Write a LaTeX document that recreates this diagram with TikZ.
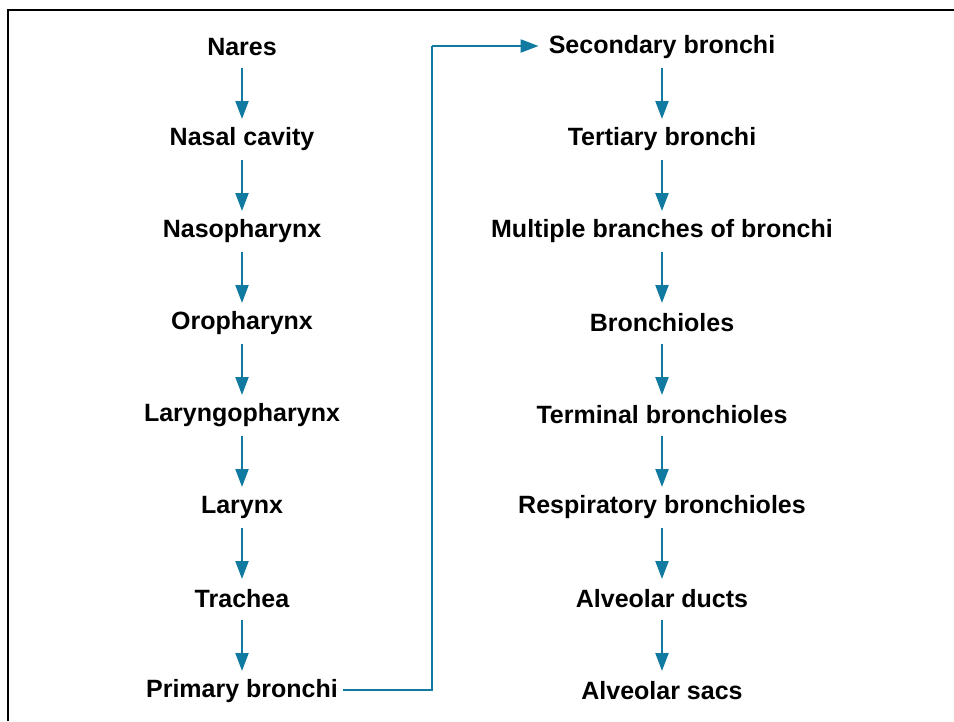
\documentclass[tikz,border=0pt]{standalone}
\usepackage{fontspec}
\setmainfont{Liberation Sans}
\usetikzlibrary{arrows.meta}
\definecolor{flow}{RGB}{16,122,160}
\begin{document}
\begin{tikzpicture}[x=1pt,y=-1pt,
  lbl/.style={font=\bfseries\fontsize{25}{30}\selectfont, inner sep=2pt, anchor=center},
  flowarrow/.style={draw=flow, line width=2.2pt, -{Triangle[length=18pt,width=13pt]}},
  flowline/.style={draw=flow, line width=2.2pt}]
\useasboundingbox (0,0) rectangle (954,721);
\draw[line width=2.8pt] (8,721) -- (8,10) -- (954,10);
% left column
\node[lbl] (n1) at (242,47) {Nares};
\node[lbl] (n2) at (242,139) {Nasal cavity};
\node[lbl] (n3) at (242,231) {Nasopharynx};
\node[lbl] (n4) at (242,323) {Oropharynx};
\node[lbl] (n5) at (242,415) {Laryngopharynx};
\node[lbl] (n6) at (242,507) {Larynx};
\node[lbl] (n7) at (242,599) {Trachea};
\node[lbl] (n8) at (242,691) {Primary bronchi};
% right column
\node[lbl] (m1) at (662,47) {Secondary bronchi};
\node[lbl] (m2) at (662,139) {Tertiary bronchi};
\node[lbl] (m3) at (662,231) {Multiple branches of bronchi};
\node[lbl] (m4) at (662,323) {Bronchioles};
\node[lbl] (m5) at (662,415) {Terminal bronchioles};
\node[lbl] (m6) at (662,507) {Respiratory bronchioles};
\node[lbl] (m7) at (662,599) {Alveolar ducts};
\node[lbl] (m8) at (662,691) {Alveolar sacs};
\foreach \a/\b in {n1/n2,n2/n3,n3/n4,n4/n5,n5/n6,n6/n7,n7/n8,m1/m2,m2/m3,m3/m4,m4/m5,m5/m6,m6/m7,m7/m8}{
  \draw[flowarrow] ([yshift=-21pt]\a.center) -- ([yshift=20pt]\b.center);
}
\coordinate (c1) at (432,690);
\coordinate (c2) at (432,46);
\draw[flowline] ([xshift=4pt]n8.east) |- (c1) -- (c2);
\draw[flowarrow] (c2) -- ([xshift=-8pt]m1.west |- c2);
\end{tikzpicture}
\end{document}
